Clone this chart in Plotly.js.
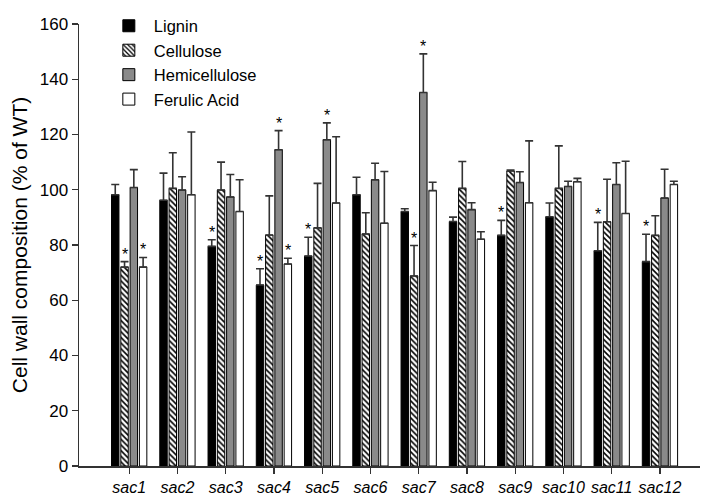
<!DOCTYPE html>
<html>
<head>
<meta charset="utf-8">
<script src="https://cdn.plot.ly/plotly-3.0.1.min.js"></script>
<style>html,body{margin:0;padding:0;background:#fff}#chart{width:716px;height:497px}</style>
</head>
<body>
<div id="chart"></div>
<script>
const categories = ["sac1","sac2","sac3","sac4","sac5","sac6","sac7","sac8","sac9","sac10","sac11","sac12"];
const tickLabels = categories.map(c => "<i>" + c + "</i>");

const lignin      = [98.2, 96.2, 79.5, 65.5, 76.0, 98.2, 92.1, 88.5, 83.5, 90.2, 77.9, 74.0];
const ligninErr   = [3.7, 9.8, 2.4, 5.9, 6.8, 6.3, 1.0, 1.6, 5.4, 5.0, 10.3, 9.9];
const ligninSig   = [false,false,true,true,true,false,false,false,true,false,true,true];

const cellulose    = [72.0, 100.5, 99.9, 83.6, 86.2, 84.0, 68.8, 100.5, 106.8, 100.5, 88.4, 83.5];
const celluloseErr = [2.0, 12.9, 10.1, 14.2, 16.1, 7.7, 11.0, 9.7, 0.3, 15.4, 15.4, 7.1];
const celluloseSig = [true,false,false,false,false,false,true,false,false,false,false,false];

const hemi    = [100.8, 99.9, 97.4, 114.5, 118.1, 103.6, 135.2, 92.8, 102.6, 101.2, 101.9, 97.0];
const hemiErr = [6.5, 4.8, 8.1, 6.9, 6.1, 6.0, 14.0, 2.5, 3.9, 1.9, 7.9, 10.4];
const hemiSig = [false,false,false,true,true,false,true,false,false,false,false,false];

const ferulic    = [72.0, 98.2, 92.1, 73.1, 95.2, 87.9, 99.7, 82.1, 95.3, 102.9, 91.4, 101.9];
const ferulicErr = [3.5, 22.7, 11.5, 2.1, 24.0, 18.7, 3.0, 2.7, 22.4, 1.2, 18.9, 1.2];
const ferulicSig = [true,false,false,true,false,false,false,false,false,false,false,false];

const zeros = categories.map(() => 0);
const errStyle = (arr) => ({type:'data', symmetric:false, array:arr, arrayminus:zeros, color:'#333', thickness:1.6, width:4});

const traces = [
  {type:'bar', name:'Lignin', x:categories, y:lignin, error_y:errStyle(ligninErr),
   marker:{color:'#000000', line:{color:'#000', width:1}}},
  {type:'bar', name:'Cellulose', x:categories, y:cellulose, error_y:errStyle(celluloseErr),
   marker:{color:'#ffffff', line:{color:'#000', width:1}, pattern:{shape:'\\', fgcolor:'#000', bgcolor:'#fff', size:4, solidity:0.4}}},
  {type:'bar', name:'Hemicellulose', x:categories, y:hemi, error_y:errStyle(hemiErr),
   marker:{color:'#8a8a8a', line:{color:'#000', width:1}}},
  {type:'bar', name:'Ferulic Acid', x:categories, y:ferulic, error_y:errStyle(ferulicErr),
   marker:{color:'#ffffff', line:{color:'#000', width:1}}}
];

const bargap = 0.23;
const series = [[lignin, ligninErr, ligninSig],[cellulose, celluloseErr, celluloseSig],[hemi, hemiErr, hemiSig],[ferulic, ferulicErr, ferulicSig]];
const plotW = 716 - 79 - 16;
const xRange = [-1.04, 11.83];
const pxPerCat = plotW / (xRange[1] - xRange[0]);
const slot = (1 - bargap) / 4 * pxPerCat;
const annotations = [];
series.forEach((s, k) => {
  s[2].forEach((sig, i) => {
    if (sig) annotations.push({x:categories[i], y:s[0][i] + s[1][i], xref:'x', yref:'y', text:'*',
      showarrow:false, xshift:(k - 1.5) * slot, yanchor:'bottom', yshift:-3,
      font:{family:'Liberation Sans, Arial, sans-serif', size:16, color:'#000'}});
  });
});

const layout = {
  width:716, height:497,
  margin:{l:79, r:16, t:9, b:31},
  paper_bgcolor:'#fff', plot_bgcolor:'#fff',
  font:{family:'Liberation Sans, Arial, sans-serif', color:'#000', size:17},
  barmode:'group', bargap:bargap, bargroupgap:0.2,
  showlegend:true,
  legend:{x:0.04, y:1.035, xanchor:'left', yanchor:'top', bgcolor:'rgba(0,0,0,0)', font:{size:16.5}, tracegroupgap:0, itemwidth:40},
  xaxis:{type:'category', range:xRange, tickvals:categories, ticktext:tickLabels, showline:true, linecolor:'#333', linewidth:1.5,
    ticks:'outside', ticklen:6, tickcolor:'#333', tickwidth:1.2, showgrid:false, zeroline:false, tickfont:{size:16}},
  yaxis:{range:[0,160], dtick:20, showline:true, linecolor:'#333', linewidth:1.5, ticks:'outside', ticklen:6, tickcolor:'#333', tickwidth:1.2,
    showgrid:false, zeroline:false, tickfont:{size:17},
    title:{text:'Cell wall composition (% of WT)', font:{size:21}, standoff:6}},
  annotations:annotations
};

Plotly.newPlot('chart', traces, layout, {displayModeBar:false, staticPlot:true});
</script>
</body>
</html>
